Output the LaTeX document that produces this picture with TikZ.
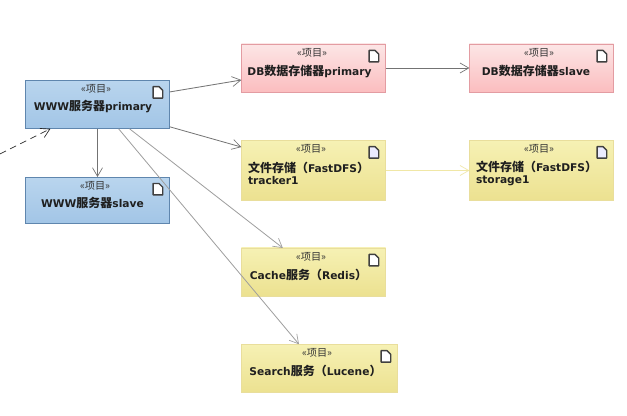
\documentclass[tikz,border=0pt]{standalone}
\usepackage{fontspec}
\usetikzlibrary{arrows.meta,calc}
\setmainfont{DejaVu Sans}
\newfontfamily\cjk{Noto Sans CJK SC}
\newcommand{\cn}[1]{{\cjk\fontsize{9pt}{10pt}\selectfont #1}}
\newcommand{\nm}{\fontsize{8pt}{10pt}\selectfont\bfseries}
\definecolor{bluetop}{HTML}{B9D5EE}
\definecolor{bluebot}{HTML}{A2C5E6}
\definecolor{blueline}{HTML}{5F86AE}
\definecolor{pinktop}{HTML}{FCE6E6}
\definecolor{pinkbot}{HTML}{FBBDBF}
\definecolor{pinkline}{HTML}{E39CA2}
\definecolor{yeltop}{HTML}{F6F1B4}
\definecolor{yelbot}{HTML}{ECE190}
\definecolor{yelline}{HTML}{E9DE9C}
\tikzset{
  every node/.style={inner sep=0pt,outer sep=0pt},
  boxbase/.style={rectangle,draw,line width=0.7pt,shade,shading angle=0},
  bluebox/.style={boxbase,draw=blueline,top color=bluetop,bottom color=bluebot},
  pinkbox/.style={boxbase,draw=pinkline,top color=pinktop,bottom color=pinkbot},
  yelbox/.style={boxbase,draw=yelline,top color=yeltop,bottom color=yelbot},
  stereo/.style={font=\fontsize{7.6pt}{8pt}\selectfont\cjk,text=black!80},
  title/.style={font=\nm,text=black!88,align=left},
  conn/.style={line width=0.6pt,draw=black!55,-{Straight Barb[length=6.5pt,width=7.5pt,line width=0.5pt]}},
  connlight/.style={conn,draw=black!38},
  connyellow/.style={conn,draw=yelbot!80!white},
  dep/.style={conn,draw=black!85,line width=0.5pt,dash pattern=on 5pt off 3.5pt},
  iconshape/.style={draw=black!75,line width=1pt,fill=white,line join=round}
}
\newcommand{\docicon}[2]{%
  \draw[iconshape,fill=#2] ([xshift=-12.4pt,yshift=-4.8pt]#1.north east)
    -- ++(4.4pt,0) -- ++(2.8pt,-2.8pt) -- ++(0,-5.8pt) -- ++(-7.2pt,0) -- cycle;
}
\begin{document}
\begin{tikzpicture}[x=0.75pt,y=-0.75pt]
\useasboundingbox[fill=white] (0,0) rectangle (627,416);

\node[bluebox,minimum width=108.2pt,minimum height=36.4pt] (www) at (97.5,104.5) {};
\node[bluebox,minimum width=108.2pt,minimum height=35.2pt] (wslave) at (97.5,200.5) {};
\node[pinkbox,minimum width=108.2pt,minimum height=36pt] (dbp) at (313.5,68) {};
\node[pinkbox,minimum width=108.2pt,minimum height=36pt] (dbs) at (541.5,68) {};
\node[yelbox,minimum width=108.2pt,minimum height=45.4pt] (trk) at (313.5,170.5) {};
\node[yelbox,minimum width=108.2pt,minimum height=45.4pt] (sto) at (541.5,170.5) {};
\node[yelbox,minimum width=108.2pt,minimum height=36pt] (cache) at (313.5,272) {};
\node[yelbox,minimum width=117.2pt,minimum height=36.4pt] (search) at (319.5,368.5) {};

\docicon{www}{white}
\docicon{wslave}{white}
\docicon{dbp}{white}
\docicon{dbs}{white}
\docicon{trk}{blue!8}
\docicon{sto}{blue!8}
\docicon{cache}{white}
\docicon{search}{white}

\node[stereo] (s1) at (96,89) {«项目»};
\node[stereo] (s2) at (95,186) {«项目»};
\node[stereo] (s3) at (312,53) {«项目»};
\node[stereo] (s4) at (539,53) {«项目»};
\node[stereo] (s5) at (311,149) {«项目»};
\node[stereo] (s6) at (539,149) {«项目»};
\node[stereo] (s7) at (311,257) {«项目»};
\node[stereo] (s8) at (317,353) {«项目»};

\node[title] (t1) at (93,107) {WWW\cn{服务器}primary};
\node[title] (t2) at (92.5,203) {WWW\cn{服务器}slave};
\node[title] (t3) at (309.5,71) {DB\cn{数据存储器}primary};
\node[title] (t4) at (536,71) {DB\cn{数据存储器}slave};
\node[title,anchor=west] (t5) at (248,173.5) {\cn{文件存储（}FastDFS\cn{）}\\[-1.5pt]tracker1};
\node[title,anchor=west] (t6) at (476,173.5) {\cn{文件存储（}FastDFS\cn{）}\\[-1.5pt]storage1};
\node[title] (t7) at (308.5,275) {Cache\cn{服务（}Redis\cn{）}};
\node[title] (t8) at (315.5,371) {Search\cn{服务（}Lucene\cn{）}};

\coordinate (depstart) at (0,154);

\draw[conn] ([yshift=9.4pt]www.east) -- ([yshift=-9pt]dbp.west);
\draw[conn] ([yshift=1.5pt]www.south east) -- ([yshift=17.6pt]trk.west);
\draw[conn] (www.south) -- (wslave.north);
\draw[connlight] ([xshift=24pt]www.south) -- ([xshift=-23pt]cache.north);
\draw[connlight] ([xshift=15.8pt]www.south) -- ([xshift=-15.4pt]search.north);
\draw[conn] (dbp.east) -- (dbs.west);
\draw[connyellow] (trk.east) -- (sto.west);
\draw[dep] (depstart) -- ([xshift=18.8pt]www.south west);
\end{tikzpicture}
\end{document}
